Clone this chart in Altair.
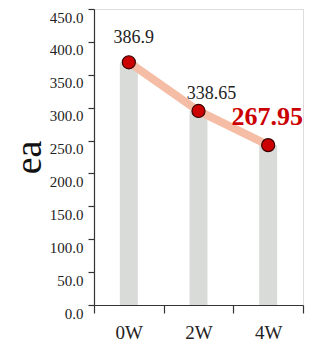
import altair as alt
import pandas as pd

weeks = ["0W", "2W", "4W"]
plotted = [369, 295, 243]
label_text = ["386.9", "338.65", "267.95"]

df = pd.DataFrame({"week": weeks, "value": plotted, "label": label_text})

FONT = "'Liberation Serif', 'Times New Roman', Times, serif"

x = alt.X("week:N", sort=weeks, title=None,
          scale=alt.Scale(paddingInner=0, paddingOuter=0),
          axis=alt.Axis(labelAngle=0, tickBand="extent", tickSize=8, labelPadding=10,
                        labelFontSize=19, labelFont=FONT, labelColor="#222",
                        domainColor="#333", tickColor="#333", domainWidth=1.2, tickWidth=1.2))
y = alt.Y("value:Q", title="ea",
          scale=alt.Scale(domain=[0, 450]),
          axis=alt.Axis(values=list(range(0, 451, 50)), format=".1f", grid=False,
                        tickSize=6, labelPadding=5, labelOffset=8,
                        labelFontSize=15, labelFont=FONT, labelColor="#222",
                        domainColor="#333", tickColor="#333", domainWidth=1.2, tickWidth=1.2,
                        titleFont=FONT, titleFontSize=38, titleFontWeight="normal",
                        titleColor="#111", titleX=-65, titleY=148,
                        titleAlign="center", titleBaseline="middle", titleAngle=-90))

base = alt.Chart(df)
bars = base.mark_bar(color="#d9dbd9", size=18).encode(x=x, y=y)
line = base.mark_line(color="#f5bda5", strokeWidth=8).encode(x=x, y=y)
pts = base.mark_circle(size=170, color="#cc0000", opacity=1,
                       stroke="#3a0000", strokeWidth=1.2).encode(x=x, y=y)

t0 = base.transform_filter(alt.datum.week == "0W").mark_text(
    font=FONT, fontSize=18, color="#222", dx=5, dy=-24).encode(x=x, y=y, text="label:N")
t1 = base.transform_filter(alt.datum.week == "2W").mark_text(
    font=FONT, fontSize=18, color="#222", dx=13, dy=-17).encode(x=x, y=y, text="label:N")
t2 = base.transform_filter(alt.datum.week == "4W").mark_text(
    font=FONT, fontSize=26, fontWeight="bold", color="#cc0000", dx=-1, dy=-28).encode(x=x, y=y, text="label:N")

chart = alt.layer(bars, line, pts, t0, t1, t2).properties(
    width=209, height=296,
    autosize=alt.AutoSizeParams(type="none"),
    padding={"left": 86, "top": 1, "right": 2, "bottom": 38},
).configure_view(stroke="#333", strokeWidth=1.2).configure(background="white")

chart.save("out.html", embed_options={"renderer": "svg", "actions": False})
